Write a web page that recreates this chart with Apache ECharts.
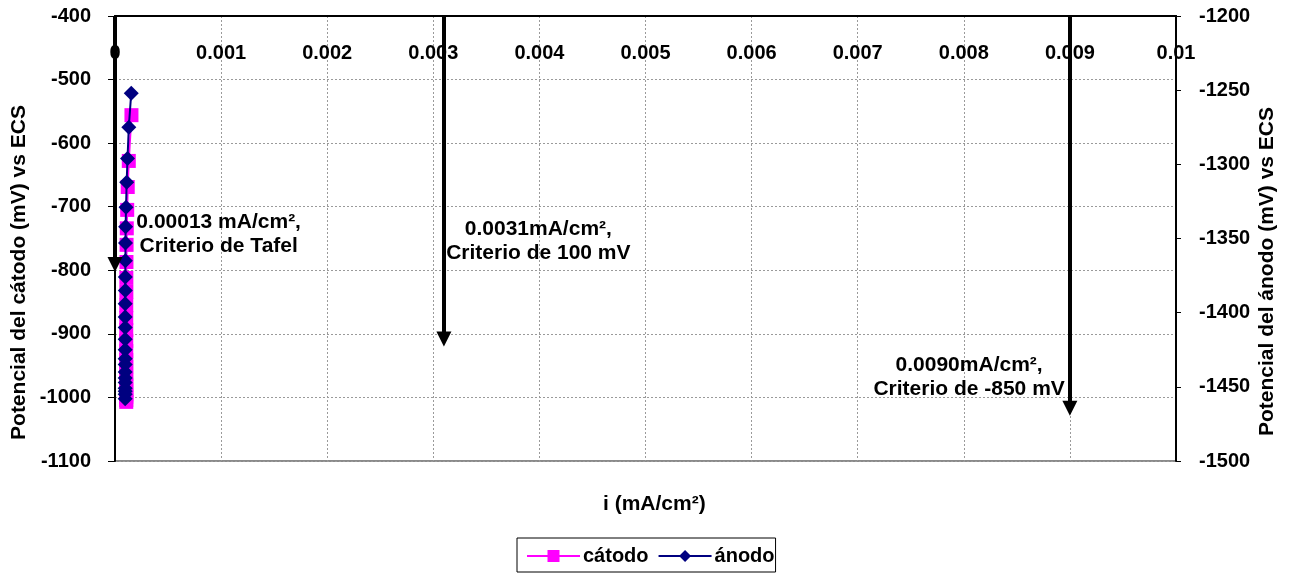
<!DOCTYPE html>
<html>
<head>
<meta charset="utf-8">
<script src="https://cdn.jsdelivr.net/npm/echarts@6/dist/echarts.min.js"></script>
<style>
  html, body { margin: 0; padding: 0; background: #ffffff; }
  #chart { width: 1291px; height: 575px; }
</style>
</head>
<body>
<div id="chart"></div>
<script>
const FONT = '"Liberation Sans", Arial, sans-serif';

// Cathode: current density (mA/cm²) and potential (mV vs ECS), left axis
const catodoI = [0.000155, 0.000130, 0.000120, 0.000115, 0.000111, 0.000109, 0.000108, 0.000107,
                 0.000107, 0.000106, 0.000106, 0.000106, 0.000106, 0.000106, 0.000106, 0.000106,
                 0.000106, 0.000106, 0.000106, 0.000106, 0.000106, 0.000106, 0.000106, 0.000106];
const catodoE = [-556, -628, -669, -705, -734, -760, -787, -812,
                 -834, -855, -875, -894, -911, -927, -941, -952,
                 -963, -973, -981, -988, -995, -999, -1004, -1007];

// Anode: current density (mA/cm²) and potential (mV vs ECS), right axis
const anodoI = [0.000153, 0.000130, 0.000118, 0.000110, 0.000104, 0.000100, 0.000099, 0.000098,
                0.000097, 0.000097, 0.000096, 0.000096, 0.000096, 0.000096, 0.000096, 0.000096,
                0.000096, 0.000096, 0.000096, 0.000096, 0.000096, 0.000096, 0.000096, 0.000096];
const anodoE = [-1252, -1275, -1296, -1312, -1329, -1342, -1353, -1365,
                -1376, -1385, -1394, -1403, -1410, -1418, -1425, -1431,
                -1435, -1440, -1444, -1447, -1451, -1453, -1455, -1458];

// Protection criteria arrows (x position, end potential on the cathode axis)
const flechaI = [0, 0.0031, 0.0090];
const flechaE = [-791, -908, -1017];

// Criteria notes
const notaTexto = ['0.00013 mA/cm²,\nCriterio de Tafel',
                   '0.0031mA/cm²,\nCriterio de 100 mV',
                   '0.0090mA/cm²,\nCriterio de -850 mV'];
const notaI = [0.000977, 0.00399, 0.00805];
const notaE = [-744, -755, -968];

const pares = (xs, ys) => xs.map((x, i) => [x, ys[i]]);

const txt = size => ({ color: '#000', fontFamily: FONT, fontWeight: 'bold', fontSize: size });

const chart = echarts.init(document.getElementById('chart'), null, { renderer: 'canvas' });

chart.setOption({
  animation: false,
  backgroundColor: '#ffffff',
  grid: {
    left: 115, right: 115, top: 16, bottom: 114,
    show: true, borderColor: '#8a8a8a', borderWidth: 2, backgroundColor: 'transparent'
  },
  title: {
    text: 'i (mA/cm²)',
    left: 598, top: 489,
    textStyle: txt(21)
  },
  legend: {
    data: ['cátodo', 'ánodo'],
    left: 517, top: 538,
    orient: 'horizontal',
    itemWidth: 53, itemHeight: 15, itemGap: 9,
    padding: [8, 1, 6, 9],
    borderColor: '#000', borderWidth: 1,
    textStyle: Object.assign(txt(20), { padding: [0, 0, 0, -2] })
  },
  xAxis: {
    type: 'value',
    position: 'top',
    min: 0, max: 0.01, interval: 0.001,
    axisLine: { show: true, onZero: false, lineStyle: { color: '#000', width: 2 } },
    axisTick: { show: false },
    axisLabel: Object.assign({ inside: true, margin: 27 }, txt(20)),
    splitLine: { show: true, lineStyle: { color: '#9a9a9a', type: [2, 2], width: 1 } }
  },
  yAxis: [
    {
      type: 'value',
      min: -1100, max: -400, interval: 100,
      position: 'left',
      name: 'Potencial del cátodo (mV) vs ECS',
      nameLocation: 'middle', nameRotate: 90, nameGap: 85,
      nameMoveOverlap: false,
      nameTextStyle: Object.assign(txt(21), { padding: [0, 68, 0, 0] }),
      axisLine: { show: true, onZero: false, lineStyle: { color: '#000', width: 2 } },
      axisTick: { show: true, length: 7, lineStyle: { color: '#000', width: 1 } },
      axisLabel: Object.assign({ margin: 24, formatter: v => String(v) }, txt(20)),
      splitLine: { show: true, lineStyle: { color: '#9a9a9a', type: [2, 2], width: 1 } }
    },
    {
      type: 'value',
      min: -1500, max: -1200, interval: 50,
      position: 'right',
      name: 'Potencial del ánodo (mV) vs ECS',
      nameLocation: 'middle', nameRotate: 90, nameGap: 81,
      nameMoveOverlap: false,
      nameTextStyle: Object.assign(txt(21), { padding: [0, 66, 0, 0] }),
      axisLine: { show: true, onZero: false, lineStyle: { color: '#000', width: 2 } },
      axisTick: { show: true, length: 5, lineStyle: { color: '#000', width: 1 } },
      axisLabel: Object.assign({ margin: 23, formatter: v => String(v) }, txt(20)),
      splitLine: { show: false }
    }
  ],
  series: [
    {
      name: 'cátodo',
      type: 'line',
      xAxisIndex: 0, yAxisIndex: 0,
      data: pares(catodoI, catodoE),
      symbol: 'rect', symbolSize: 14,
      lineStyle: { color: '#ff00ff', width: 2 },
      itemStyle: { color: '#ff00ff' },
      z: 3
    },
    {
      name: 'ánodo',
      type: 'line',
      xAxisIndex: 0, yAxisIndex: 1,
      data: pares(anodoI, anodoE),
      symbol: 'diamond', symbolSize: 15,
      lineStyle: { color: '#000080', width: 2 },
      itemStyle: { color: '#000080' },
      z: 4
    },
    {
      name: 'notas',
      type: 'scatter',
      xAxisIndex: 0, yAxisIndex: 0,
      symbolSize: 0,
      silent: true,
      itemStyle: { color: '#000', opacity: 1 },
      data: pares(notaI, notaE),
      label: Object.assign({
        show: true, position: 'inside', align: 'center', verticalAlign: 'middle',
        lineHeight: 24, textBorderWidth: 0, textBorderColor: 'transparent', opacity: 1,
        formatter: p => notaTexto[p.dataIndex]
      }, txt(21)),
      z: 5,
      markLine: {
        silent: true,
        symbol: ['none', 'triangle'],
        symbolSize: [15, 15],
        label: { show: false },
        lineStyle: { color: '#000', width: 4, type: 'solid', opacity: 1 },
        emphasis: { disabled: true },
        data: flechaI.map((x, i) => [
          { coord: [x, -400] },
          { coord: [x, flechaE[i]] }
        ]),
        z: 6
      }
    }
  ]
});
</script>
</body>
</html>
